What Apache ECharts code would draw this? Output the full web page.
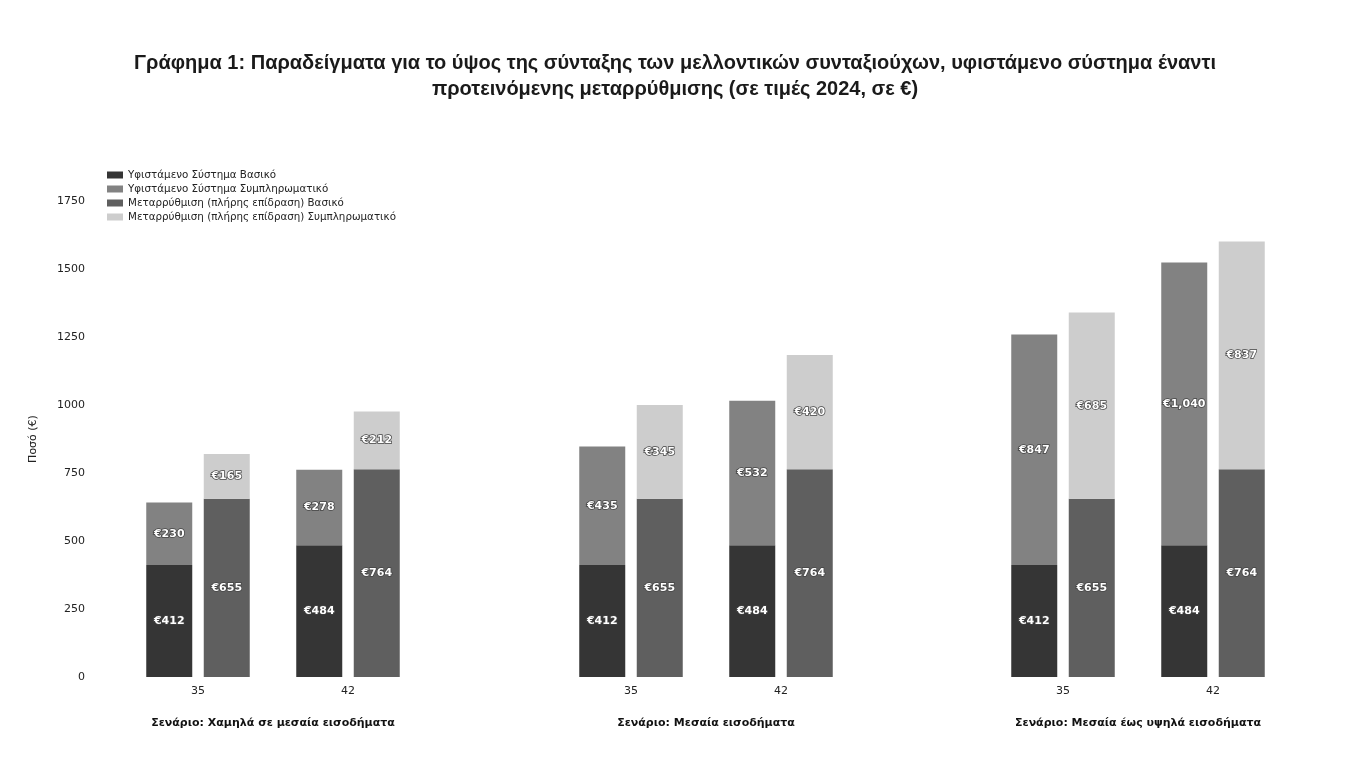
<html>
<head>
<meta charset="utf-8">
<script src="https://cdn.jsdelivr.net/npm/echarts@6/dist/echarts.min.js"></script>
<style>
    html, body, #main { width: 100%; height: 100%; margin: 0; background: #fff; }
</style>
</head>
<body>
<div id="main"></div>
<script>
var ages = ['35', '42'];
var scenarios = [
    'Σενάριο: Χαμηλά σε μεσαία εισοδήματα',
    'Σενάριο: Μεσαία εισοδήματα',
    'Σενάριο: Μεσαία έως υψηλά εισοδήματα'
];
var seriesNames = [
    'Υφιστάμενο Σύστημα Βασικό',
    'Υφιστάμενο Σύστημα Συμπληρωματικό',
    'Μεταρρύθμιση (πλήρης επίδραση) Βασικό',
    'Μεταρρύθμιση (πλήρης επίδραση) Συμπληρωματικό'
];
// one inner array per scenario, values for age 35 and 42
var existingBasic = [[412, 484], [412, 484], [412, 484]];
var existingSupp  = [[230, 278], [435, 532], [847, 1040]];
var reformBasic   = [[655, 764], [655, 764], [655, 764]];
var reformSupp    = [[165, 212], [345, 420], [685, 837]];
var yTicks = [0, 250, 500, 750, 1000, 1250, 1500, 1750];

var colors = ['#353535', '#828282', '#5f5f5f', '#cdcdcd'];
var font = 'DejaVu Sans';

var chart = echarts.init(document.getElementById('main'));

var gridLeft = [123, 556, 988];
var grids = [], xAxes = [], yAxes = [], series = [];
var blocks = [existingBasic, existingSupp, reformBasic, reformSupp];
var stacks = ['existing', 'existing', 'reform', 'reform'];

function euro(v) {
    return '€' + v.toLocaleString('en-US');
}

for (var g = 0; g < scenarios.length; g++) {
    grids.push({left: gridLeft[g], width: 300, top: 201, bottom: 83});
    xAxes.push({
        type: 'category',
        gridIndex: g,
        data: ages,
        axisLine: {show: false},
        axisTick: {show: false},
        axisLabel: {fontFamily: font, fontSize: 11, color: '#222', margin: 9},
        name: scenarios[g],
        nameLocation: 'middle',
        nameGap: 41,
        nameTextStyle: {fontFamily: font, fontSize: 11, fontWeight: 'bold', color: '#111'}
    });
    yAxes.push({
        type: 'value',
        gridIndex: g,
        min: 0,
        max: yTicks[yTicks.length - 1],
        interval: 250,
        show: g === 0,
        axisLine: {show: false},
        axisTick: {show: false},
        splitLine: {show: false},
        axisLabel: {
            fontFamily: font, fontSize: 11, color: '#222', margin: 38,
            formatter: function (v) { return String(v); }
        },
        name: g === 0 ? 'Ποσό (€)' : '',
        nameLocation: 'middle',
        nameGap: 84,
        nameRotate: 90,
        nameTextStyle: {fontFamily: font, fontSize: 11, color: '#222'}
    });
    for (var s = 0; s < 4; s++) {
        series.push({
            name: seriesNames[s],
            type: 'bar',
            xAxisIndex: g,
            yAxisIndex: g,
            stack: stacks[s] + g,
            barWidth: 46,
            barGap: '25%',
            data: blocks[s][g],
            itemStyle: {color: colors[s]},
            label: {
                show: true,
                position: 'inside',
                formatter: function (p) { return euro(p.value); },
                fontFamily: font,
                fontSize: 11,
                fontWeight: 'bold',
                color: '#fff',
                textBorderColor: '#444',
                textBorderWidth: 1.5
            }
        });
    }
}

chart.setOption({
    animation: false,
    title: {
        text: 'Γράφημα 1: Παραδείγματα για το ύψος της σύνταξης των μελλοντικών συνταξιούχων, υφιστάμενο σύστημα έναντι\nπροτεινόμενης μεταρρύθμισης (σε τιμές 2024, σε €)',
        left: 'center',
        top: 45,
        textStyle: {
            fontFamily: 'Liberation Sans',
            fontSize: 20,
            fontWeight: 'bold',
            color: '#1a1a1a',
            lineHeight: 26,
            align: 'center'
        }
    },
    legend: {
        data: seriesNames,
        orient: 'vertical',
        left: 102,
        top: 165,
        itemWidth: 16,
        itemHeight: 7,
        itemGap: 4,
        icon: 'rect',
        textStyle: {fontFamily: font, fontSize: 10.3, color: '#222'}
    },
    grid: grids,
    xAxis: xAxes,
    yAxis: yAxes,
    series: series
});
</script>
</body>
</html>
